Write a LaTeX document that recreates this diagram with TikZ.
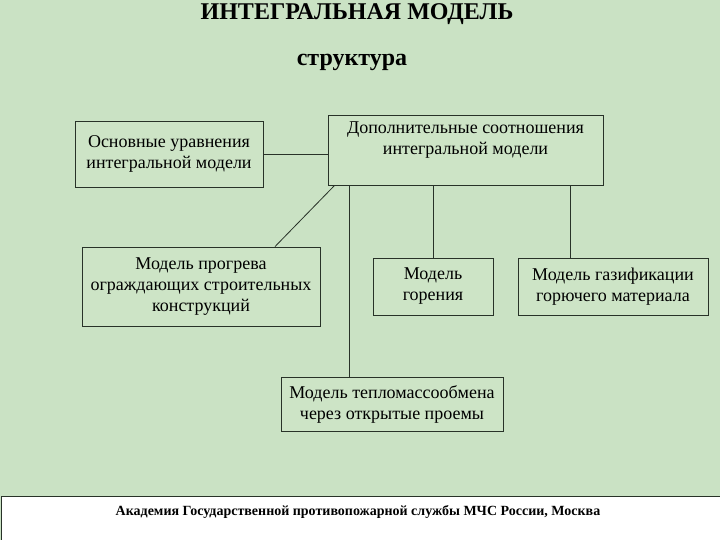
\documentclass[tikz,border=0pt]{standalone}
\usepackage{fontspec}
\setmainfont{Liberation Serif}
\definecolor{bg}{RGB}{202,226,196}
\definecolor{boxc}{RGB}{205,228,198}
\definecolor{ln}{RGB}{40,50,40}
\begin{document}
\begin{tikzpicture}[x=1pt,y=-1pt,
  bx/.style={draw=ln,line width=0.8pt,fill=boxc,inner sep=0pt,align=center,font=\fontsize{18}{21}\selectfont},
  cn/.style={draw=ln,line width=0.8pt}]
\useasboundingbox (0,0) rectangle (720,540);
\fill[bg] (0,0) rectangle (720,540);
\node[font=\bfseries\fontsize{24}{26}\selectfont] (t1) at (357,14) {ИНТЕГРАЛЬНАЯ МОДЕЛЬ};
\node[font=\bfseries\fontsize{24}{26}\selectfont] (t2) at (352,62) {структура};
\node[bx,minimum width=188,minimum height=66] (b1) at (169,154) {Основные уравнения\\интегральной модели};
\node[bx,minimum width=275,minimum height=70] (b2) at (465.5,150) {Дополнительные соотношения\\интегральной модели\\[2pt]};
\node[bx,minimum width=238,minimum height=79] (b3) at (201,286.5) {Модель прогрева\\ограждающих строительных\\конструкций};
\node[bx,minimum width=120,minimum height=57] (b4) at (433,286.5) {Модель\\горения};
\node[bx,minimum width=190,minimum height=57] (b5) at (613,286.5) {Модель газификации\\горючего материала};
\node[bx,minimum width=222,minimum height=54] (b6) at (392,404) {Модель тепломассообмена\\через открытые проемы};
\draw[cn] (b1.east) -- (b2.west|-b1.east);
\draw[cn] ([xshift=7]b2.south west) -- ([xshift=74]b3.north);
\draw[cn] (b2.south west -| 349,0) -- (b6.north -| 349,0);
\draw[cn] (b2.south -| b4.north) -- (b4.north);
\draw[cn] (b2.south -| 570,0) -- (b5.north -| 570,0);
\node[draw=ln,fill=white,minimum width=719,minimum height=44,inner sep=0pt,anchor=north west] (ft) at (0.5,495.5) {};
\node[font=\bfseries\fontsize{14}{16}\selectfont] (ftx) at (358,512) {Академия Государственной противопожарной службы МЧС России, Москва};
\end{tikzpicture}
\end{document}
